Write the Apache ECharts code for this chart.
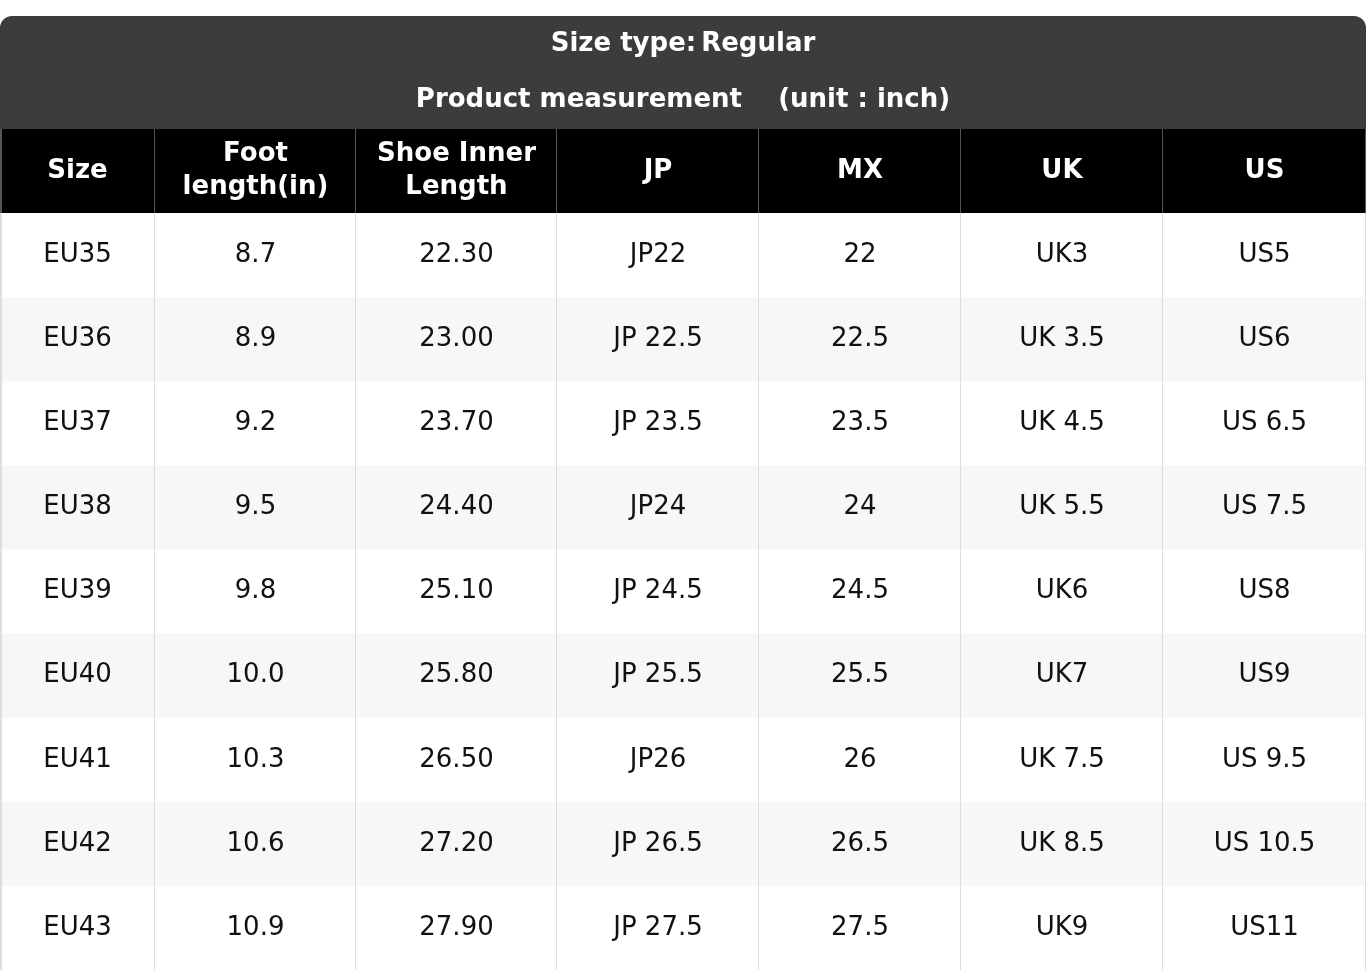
<!DOCTYPE html>
<html><head><meta charset="utf-8">
<script src="https://cdn.jsdelivr.net/npm/echarts@6/dist/echarts.min.js"></script>
<style>html,body{margin:0;padding:0;background:#fff}#c{width:1366px;height:972px}</style>
</head><body><div id="c"></div>
<script>
const headers = ["Size","Foot\nlength(in)","Shoe Inner\nLength","JP","MX","UK","US"];
const sizes = ["EU35","EU36","EU37","EU38","EU39","EU40","EU41","EU42","EU43"];
const footLength = ["8.7","8.9","9.2","9.5","9.8","10.0","10.3","10.6","10.9"];
const innerLength = ["22.30","23.00","23.70","24.40","25.10","25.80","26.50","27.20","27.90"];
const jp = ["JP22","JP 22.5","JP 23.5","JP24","JP 24.5","JP 25.5","JP26","JP 26.5","JP 27.5"];
const mx = ["22","22.5","23.5","24","24.5","25.5","26","26.5","27.5"];
const uk = ["UK3","UK 3.5","UK 4.5","UK 5.5","UK6","UK7","UK 7.5","UK 8.5","UK9"];
const us = ["US5","US6","US 6.5","US 7.5","US8","US9","US 9.5","US 10.5","US11"];

const colEdges = [0,155,356,557,759,961,1163,1366];
const columns = [sizes, footLength, innerLength, jp, mx, uk, us];
const data = [];
headers.forEach((h,c)=>data.push([c,0,h]));
columns.forEach((col,c)=>col.forEach((v,r)=>data.push([c,r+1,v])));

const F = 'DejaVu Sans';
const chart = echarts.init(document.getElementById('c'));
chart.setOption({
  animation:false,
  graphic:[{type:'rect',left:0,top:16,shape:{width:1366,height:114,r:[12,12,0,0]},style:{fill:'#3c3c3c'},z:-1}],
  title:[
    {text:'{b|Size type:} {n|Regular}',left:'center',top:26,textStyle:{rich:{b:{fontFamily:F,fontWeight:'bold',fontSize:26,color:'#fff'},n:{fontFamily:F,fontSize:26,color:'#fff'}}}},
    {text:'{b|Product measurement}{n|    (unit : inch)}',left:'center',top:82,textStyle:{rich:{b:{fontFamily:F,fontWeight:'bold',fontSize:26,color:'#fff'},n:{fontFamily:F,fontSize:26,color:'#fff'}}}}
  ],
  grid:{left:0,right:0,top:129,bottom:2},
  xAxis:{type:'value',min:0,max:1366,show:false},
  yAxis:{type:'value',min:0,max:10,inverse:true,show:false},
  series:[{
    type:'custom',
    data:data,
    renderItem:function(params,api){
      const c=api.value(0), r=api.value(1), txt=api.value(2);
      const p0=api.coord([colEdges[c],r]);
      const p1=api.coord([colEdges[c+1],r+1]);
      const w=p1[0]-p0[0], h=p1[1]-p0[1];
      const isHead=r===0;
      const fill=isHead?'#000':(r%2===0?'#f7f7f7':'#ffffff');
      return {type:'group',children:[
        {type:'rect',shape:{x:p0[0],y:p0[1],width:w,height:h},style:{fill:fill}},
        {type:'line',shape:{x1:p1[0],y1:p0[1],x2:p1[0],y2:p1[1]},style:{stroke:isHead?'#555':'#dddddd',lineWidth:2}},
        c===0?{type:'line',shape:{x1:p0[0]+1,y1:p0[1],x2:p0[0]+1,y2:p1[1]},style:{stroke:isHead?'#555':'#dddddd',lineWidth:2}}:{type:'group'},
        {type:'text',style:{x:p0[0]+w/2,y:p0[1]+h/2,text:txt,align:'center',verticalAlign:'middle',
          fontFamily:F,fontSize:26,lineHeight:33,fontWeight:isHead?'bold':'normal',fill:isHead?'#fff':'#111'}}
      ]};
    }
  }]
});
</script></body></html>
